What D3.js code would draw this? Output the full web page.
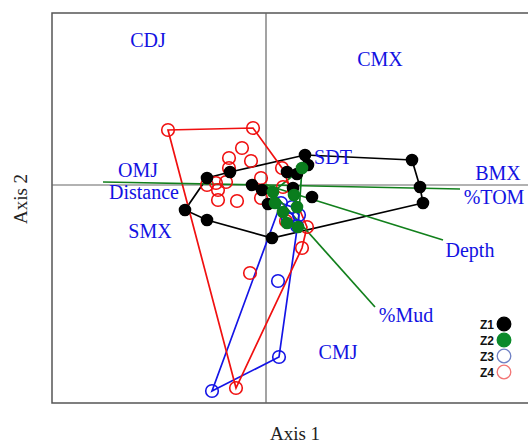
<!DOCTYPE html>
<html>
<head>
<meta charset="utf-8">
<script src="https://cdn.jsdelivr.net/npm/d3@7"></script>
<style>
  html, body { margin: 0; padding: 0; background: #fff; overflow: hidden; }
  svg { display: block; }
</style>
</head>
<body>
<svg id="chart" width="528" height="445"></svg>
<script>
// Ordination scores for each zone (Axis 1, Axis 2)
const zone1 = [
  [0.39, 0.30], [0.42, 0.20], [0.21, 0.13], [0.31, 0.11], [1.46, 0.25],
  [1.54, -0.02], [1.57, -0.18], [0.06, -0.53], [-0.59, -0.35], [-0.81, -0.25],
  [-0.59, 0.07], [-0.36, 0.13], [-0.14, 0.00], [-0.04, -0.05], [0.27, -0.03],
  [0.46, -0.12], [0.02, -0.19]
];
const zone2 = [
  [0.07, -0.07], [0.36, 0.17], [0.28, -0.10], [0.31, -0.22], [0.17, -0.27],
  [0.21, -0.38], [0.32, -0.42], [0.09, -0.18]
];
const zone3 = [
  [0.15, -0.18], [0.26, -0.22], [0.33, -0.30], [0.22, -0.34], [0.31, -0.41],
  [0.12, -0.96], [0.13, -1.72], [-0.54, -2.06]
];
const zone4 = [
  [-0.98, 0.55], [-0.13, 0.57], [-0.24, 0.37], [-0.37, 0.27], [-0.15, 0.24],
  [-0.37, 0.17], [-0.59, 0.00], [-0.50, 0.02], [-0.40, 0.03], [-0.48, -0.05],
  [-0.48, -0.15], [-0.29, -0.16], [-0.05, 0.07], [0.16, 0.17], [0.17, -0.02],
  [-0.05, -0.13], [0.41, -0.42], [0.20, -0.36], [0.36, -0.63], [-0.16, -0.88],
  [-0.30, -2.03]
];

// Environmental vectors (end points of arrows from the origin)
const vectorNames = ["Distance", "%TOM", "Depth", "%Mud"];
const vectorEnds = [[-1.63, 0.03], [1.94, -0.04], [1.77, -0.55], [1.09, -1.22]];
const vectorLabelPos = [[-1.22, -0.135], [2.28, -0.19], [2.04, -0.72], [1.40, -1.37]];

// Site / species labels
const siteNames = ["CDJ", "CMX", "SDT", "BMX", "OMJ", "SMX", "CMJ"];
const sitePos = [[-1.18, 1.38], [1.14, 1.19], [0.67, 0.21], [2.32, 0.05],
                 [-1.28, 0.085], [-1.16, -0.53], [0.72, -1.74]];

const zoneNames = ["Z1", "Z2", "Z3", "Z4"];

const svg = d3.select("#chart");
const plotLeft = 52, plotTop = 13, plotRight = 538, plotBottom = 403;

const x = d3.scaleLinear().domain([-2.14, 2.72]).range([plotLeft, plotRight]);
const y = d3.scaleLinear().domain([1.72, -2.18]).range([plotTop, plotBottom]);

// Frame and origin cross-hairs
svg.append("rect")
  .attr("x", plotLeft).attr("y", plotTop)
  .attr("width", plotRight - plotLeft).attr("height", plotBottom - plotTop)
  .attr("fill", "none").attr("stroke", "#555").attr("stroke-width", 1.5);
svg.append("line")
  .attr("x1", x(0)).attr("x2", x(0)).attr("y1", plotTop).attr("y2", plotBottom)
  .attr("stroke", "#666").attr("stroke-width", 1.2);
svg.append("line")
  .attr("x1", plotLeft).attr("x2", plotRight).attr("y1", y(0)).attr("y2", y(0))
  .attr("stroke", "#666").attr("stroke-width", 1.2);

const zones = [
  { pts: zone1, color: "#000000", fill: "#000000", r: 5.5 },
  { pts: zone2, color: "#0a7d1e", fill: "#0a7d1e", r: 5.5 },
  { pts: zone3, color: "#1414e6", fill: "none", r: 6.3 },
  { pts: zone4, color: "#f01010", fill: "none", r: 6.3 }
];

const line = d3.line().x(d => x(d[0])).y(d => y(d[1]));

// Convex hulls
zones.forEach(z => {
  const hull = d3.polygonHull(z.pts);
  svg.append("path")
    .attr("d", line(hull) + "Z")
    .attr("fill", "none")
    .attr("stroke", z.color)
    .attr("stroke-width", 1.7);
});

// Environmental vectors
svg.selectAll(".vec")
  .data(vectorEnds)
  .join("line")
  .attr("class", "vec")
  .attr("x1", x(0)).attr("y1", y(0))
  .attr("x2", d => x(d[0])).attr("y2", d => y(d[1]))
  .attr("stroke", "#12801c").attr("stroke-width", 1.7);

// Points
[zones[3], zones[2], zones[0], zones[1]].forEach(z => {
  svg.append("g").selectAll("circle")
    .data(z.pts)
    .join("circle")
    .attr("cx", d => x(d[0])).attr("cy", d => y(d[1]))
    .attr("r", z.r)
    .attr("fill", z.fill)
    .attr("stroke", z.color)
    .attr("stroke-width", 1.6);
});

// Labels
const labelFont = "'Liberation Serif', 'Times New Roman', serif";
const labelColor = "#1212e2";
svg.selectAll(".site")
  .data(siteNames)
  .join("text")
  .attr("class", "site")
  .attr("x", (d, i) => x(sitePos[i][0]))
  .attr("y", (d, i) => y(sitePos[i][1]))
  .attr("text-anchor", "middle")
  .attr("font-family", labelFont).attr("font-size", 20)
  .attr("fill", labelColor)
  .text(d => d);

svg.selectAll(".vlab")
  .data(vectorNames)
  .join("text")
  .attr("class", "vlab")
  .attr("x", (d, i) => x(vectorLabelPos[i][0]))
  .attr("y", (d, i) => y(vectorLabelPos[i][1]))
  .attr("text-anchor", "middle")
  .attr("font-family", labelFont).attr("font-size", 20)
  .attr("fill", labelColor)
  .text(d => d);

// Axis titles
svg.append("text")
  .attr("x", (plotLeft + plotRight) / 2).attr("y", 440)
  .attr("text-anchor", "middle")
  .attr("font-family", labelFont).attr("font-size", 19)
  .attr("fill", "#222")
  .text("Axis 1");
svg.append("text")
  .attr("transform", "translate(27,199) rotate(-90)")
  .attr("text-anchor", "middle")
  .attr("font-family", labelFont).attr("font-size", 19)
  .attr("fill", "#222")
  .text("Axis 2");

// Legend
const legend = [
  { fill: "#000000", stroke: "#000000" },
  { fill: "#0b8a2a", stroke: "#0b8a2a" },
  { fill: "none", stroke: "#6f80c4" },
  { fill: "none", stroke: "#f27575" }
];
const lg = svg.append("g");
zoneNames.forEach((name, i) => {
  const yy = 324 + i * 16;
  lg.append("text")
    .attr("x", 494).attr("y", yy + 4.5)
    .attr("text-anchor", "end")
    .attr("font-family", "'Liberation Sans', Arial, sans-serif")
    .attr("font-weight", "bold").attr("font-size", 12)
    .attr("fill", "#111")
    .text(name);
  lg.append("circle")
    .attr("cx", 504).attr("cy", yy).attr("r", 6.8)
    .attr("fill", legend[i].fill)
    .attr("stroke", legend[i].stroke)
    .attr("stroke-width", 1.3);
});
</script>
</body>
</html>
